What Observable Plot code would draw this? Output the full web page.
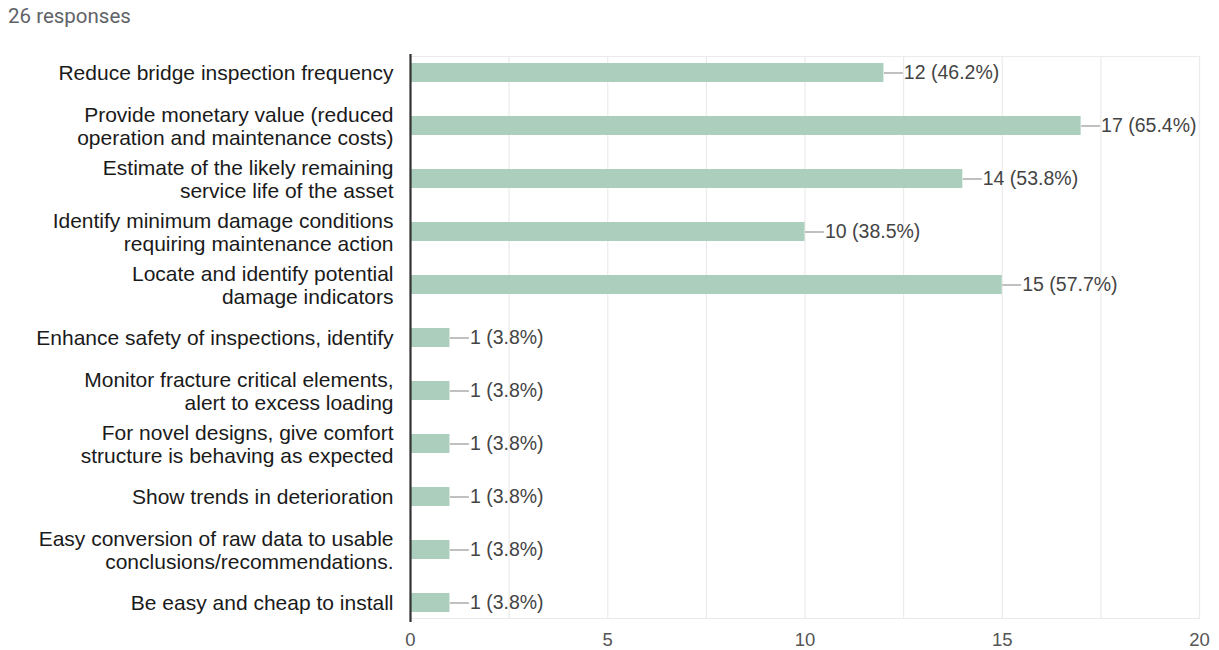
<!DOCTYPE html>
<html>
<head>
<meta charset="utf-8">
<script src="https://cdn.jsdelivr.net/npm/d3@7"></script>
<script src="https://cdn.jsdelivr.net/npm/@observablehq/plot@0.6"></script>
<style>
  html, body { margin: 0; padding: 0; background: #fff; }
  #wrap { position: relative; width: 1219px; height: 650px; }
  #title { position: absolute; left: 8px; top: 4px; font-family: Roboto, "Liberation Sans", sans-serif; font-size: 20.5px; color: #5f6368; }
  #chart { position: absolute; left: 0; top: 0; }
</style>
</head>
<body>
<div id="wrap">
  <div id="chart"></div>
  <div id="title">26 responses</div>
</div>
<script>
const answers = [
  "Reduce bridge inspection frequency",
  "Provide monetary value (reduced\noperation and maintenance costs)",
  "Estimate of the likely remaining\nservice life of the asset",
  "Identify minimum damage conditions\nrequiring maintenance action",
  "Locate and identify potential\ndamage indicators",
  "Enhance safety of inspections, identify",
  "Monitor fracture critical elements,\nalert to excess loading",
  "For novel designs, give comfort\nstructure is behaving as expected",
  "Show trends in deterioration",
  "Easy conversion of raw data to usable\nconclusions/recommendations.",
  "Be easy and cheap to install"
];
const counts = [12, 17, 14, 10, 15, 1, 1, 1, 1, 1, 1];
const percents = ["46.2%", "65.4%", "53.8%", "38.5%", "57.7%", "3.8%", "3.8%", "3.8%", "3.8%", "3.8%", "3.8%"];
const xTicks = [0, 5, 10, 15, 20];
const gridTicks = [0, 2.5, 5, 7.5, 10, 12.5, 15, 17.5, 20];

const data = answers.map((a, i) => ({answer: a, count: counts[i], pct: percents[i]}));
const connector = 0.48; // connector length in count units

const chart = Plot.plot({
  width: 1219,
  height: 650,
  marginLeft: 410,
  marginRight: 20,
  marginTop: 56,
  marginBottom: 32,
  style: {fontFamily: "'Liberation Sans', Arial, sans-serif", background: "#fff"},
  x: {domain: [0, 20]},
  y: {domain: answers, paddingInner: 0.642, paddingOuter: 0.05},
  marks: [
    Plot.ruleX(gridTicks, {stroke: "#ebebeb", strokeWidth: 1.2}),
    Plot.frame({stroke: "#ebebeb", strokeWidth: 1.2, anchor: "top"}),
    Plot.frame({stroke: "#ebebeb", strokeWidth: 1.2, anchor: "bottom"}),
    Plot.barX(data, {y: "answer", x: "count", fill: "#accebd"}),
    Plot.link(data, {
      x1: "count", x2: d => d.count + connector,
      y1: "answer", y2: "answer",
      stroke: "#9e9e9e", strokeWidth: 1.3
    }),
    Plot.text(data, {
      x: d => d.count + connector, y: "answer",
      text: d => `${d.count} (${d.pct})`,
      textAnchor: "start", dx: 1, fontSize: 19.5, fill: "#444"
    }),
    Plot.ruleX([0], {stroke: "#333", strokeWidth: 2.2, insetTop: -2, insetBottom: -4}),
    Plot.axisY({
      tickSize: 0, tickPadding: 17, fontSize: 21, fill: "#1a1a1a",
      lineHeight: 1.1, label: null
    }),
    Plot.axisX(xTicks, {
      tickSize: 0, tickPadding: 14, fontSize: 18.5, fill: "#555",
      label: null
    })
  ]
});
document.getElementById("chart").appendChild(chart);
</script>
</body>
</html>
